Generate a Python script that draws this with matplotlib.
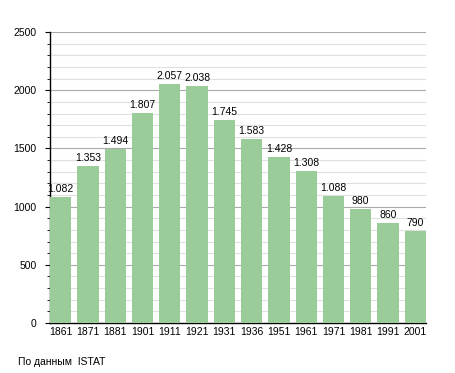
import matplotlib.pyplot as plt
from matplotlib.ticker import MultipleLocator

years = ["1861", "1871", "1881", "1901", "1911", "1921", "1931",
         "1936", "1951", "1961", "1971", "1981", "1991", "2001"]
population = [1082, 1353, 1494, 1807, 2057, 2038, 1745,
              1583, 1428, 1308, 1088, 980, 860, 790]
source_note = "По данным  ISTAT"

plt.rcParams['font.family'] = ['Liberation Sans', 'DejaVu Sans']

fig = plt.figure(figsize=(4.55, 3.73), dpi=100)
ax = fig.add_axes([0.110, 0.134, 0.826, 0.780])

x = range(len(years))
ax.bar(x, population, width=0.78, color='#99cc99', zorder=3)

for xi, v in zip(x, population):
    lab = f"{v:,}".replace(",", ".")
    ax.text(xi, v + 25, lab, ha='center', va='bottom', fontsize=7.5, zorder=4)

ax.set_xlim(-0.39, len(years) - 1 + 0.39)
ax.set_ylim(0, 2500)
ax.yaxis.set_major_locator(MultipleLocator(500))
ax.yaxis.set_minor_locator(MultipleLocator(100))
ax.grid(axis='y', which='major', color='#aaaaaa', linewidth=0.8, zorder=0)
ax.grid(axis='y', which='minor', color='#e0e0e0', linewidth=0.8, zorder=0)

ax.set_xticks(list(x))
ax.set_xticklabels(years)
ax.tick_params(axis='x', length=0, labelsize=7.5, pad=3)
ax.tick_params(axis='y', which='major', length=3.6, labelsize=7.5, pad=6)
ax.tick_params(axis='y', which='minor', length=2)

ax.spines['top'].set_visible(False)
ax.spines['right'].set_visible(False)
ax.spines['left'].set_linewidth(1.0)
ax.spines['bottom'].set_linewidth(1.0)

fig.text(18 / 455, 1 - 362 / 373, source_note, fontsize=7.5, va='center', ha='left')

fig.savefig("out.png", dpi=100)
